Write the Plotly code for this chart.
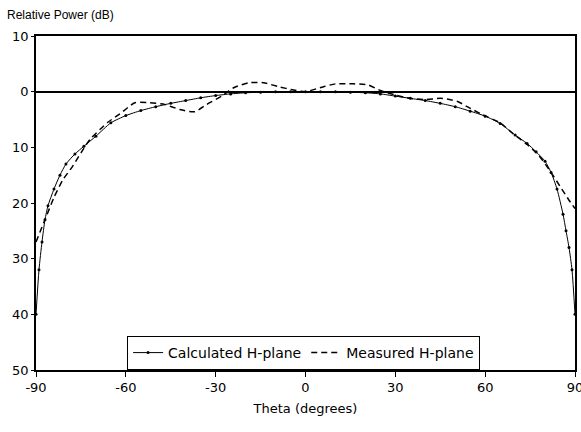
import plotly.graph_objects as go

# calculated H-plane pattern (dB)
theta_calc = [-90, -89, -88, -87, -86, -84, -82, -80, -77, -74, -70, -65, -60, -55, -50,
              -45, -40, -35, -30, -25, -20, -15, -10, -5, 0, 5, 10, 15, 20, 25, 30, 35,
              40, 45, 50, 55, 60, 65, 70, 74, 77, 80, 82, 84, 86, 87, 88, 89, 90]
power_calc = [-40, -32, -27, -23, -20.5, -17.5, -15, -13, -11.2, -9.8, -8.0, -5.6, -4.3, -3.4, -2.7,
              -2.1, -1.6, -1.1, -0.7, -0.4, -0.2, -0.1, 0, 0, 0, 0, 0, -0.1, -0.2, -0.4, -0.8, -1.2,
              -1.6, -2.1, -2.7, -3.5, -4.4, -5.7, -7.8, -9.3, -10.8, -12.5, -14.5, -17.5, -22, -25, -28, -32, -40]

# measured H-plane pattern (dB)
theta_meas = [-90, -87, -84, -81, -78, -75, -72, -66, -62, -57, -52, -47, -42, -37, -33, -28,
              -24, -19, -14, -9, -4, 0, 6, 10, 16, 21, 25, 30, 35, 40, 45, 48, 51, 54, 59,
              65, 69, 74, 78, 82, 85, 88, 90]
power_meas = [-27, -23, -19, -15.8, -13.6, -11, -8.6, -5.5, -4.0, -2.0, -2.0, -2.3, -3.2, -3.6, -2.3, -0.8,
              0.7, 1.6, 1.6, 0.9, 0.3, 0, 0.9, 1.4, 1.4, 1.2, 0.2, -0.6, -1.2, -1.4, -1.2, -1.4, -1.8, -2.7, -4.1,
              -5.6, -7.4, -9.5, -11.5, -14.5, -17, -19.5, -21]

x_ticks = [-90, -60, -30, 0, 30, 60, 90]
x_labels = ["-90", "-60", "-30", "0", "30", "60", "90"]
y_ticks = [10, 0, -10, -20, -30, -40, -50]
y_labels = ["10", "0", "10", "20", "30", "40", "50"]

sans = "Liberation Sans, Arial, sans-serif"
wide = "DejaVu Sans, sans-serif"

fig = go.Figure()
fig.add_trace(go.Scatter(
    x=theta_calc, y=power_calc, mode="lines+markers", name="Calculated H-plane",
    line=dict(color="black", width=1, shape="spline", smoothing=0.6),
    marker=dict(color="black", size=3),
))
fig.add_trace(go.Scatter(
    x=theta_meas, y=power_meas, mode="lines", name="Measured H-plane",
    line=dict(color="black", width=1.5, dash="6px,4px", shape="spline", smoothing=0.6),
))

fig.update_layout(
    width=581, height=432,
    margin=dict(l=36, r=6, t=36, b=62, autoexpand=False),
    paper_bgcolor="white", plot_bgcolor="white",
    font=dict(family=sans, size=12, color="black"),
    showlegend=True,
    legend=dict(
        orientation="h", x=0.169, y=0, xanchor="left", yanchor="bottom",
        bordercolor="black", borderwidth=1, bgcolor="white",
        font=dict(family=wide, size=14), itemwidth=30,
    ),
    annotations=[dict(
        text="Relative Power (dB)", xref="paper", yref="paper",
        x=-0.058, y=1.063, xanchor="left", yanchor="middle",
        showarrow=False, font=dict(size=12),
    )],
)
fig.update_xaxes(
    range=[-90, 90], tickvals=x_ticks, ticktext=x_labels, automargin=False,
    ticklabeloverflow="allow",
    showgrid=False, zeroline=False, showline=True, mirror=True,
    linecolor="black", linewidth=1.5, ticks="outside", ticklen=5, tickcolor="black",
    tickfont=dict(family=wide, size=13),
    title=dict(text="Theta (degrees)", standoff=10, font=dict(family=wide, size=13)),
)
fig.update_yaxes(
    range=[-50, 10], tickvals=y_ticks, ticktext=y_labels, automargin=False,
    showgrid=False, zeroline=True, zerolinecolor="black", zerolinewidth=1.5,
    showline=True, mirror=True, linecolor="black", linewidth=1.5,
    ticks="outside", ticklen=3, tickcolor="black",
    tickfont=dict(family=wide, size=13),
)

# drop the default page margin so the figure sits at the window corner
fig.write_html("out.html", config={"displayModeBar": False},
               post_script="document.body.style.margin='0';")
